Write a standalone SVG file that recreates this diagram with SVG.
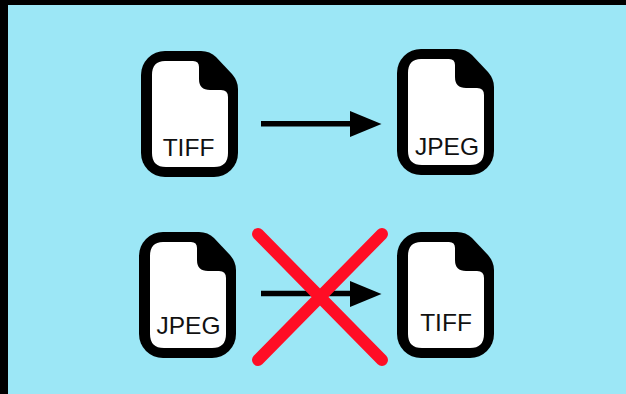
<svg xmlns="http://www.w3.org/2000/svg" width="626" height="394" viewBox="0 0 626 394">
<style>
.outer{fill:#000}
.inner{fill:#fff}
.lbl{font-family:"Liberation Sans",Arial,sans-serif;font-size:24.500px;fill:#111;text-anchor:middle}
.shaft{stroke:#000;stroke-width:5.500;fill:none}
.head{fill:#000}
.cross{stroke:#ff0d25;stroke-width:12;stroke-linecap:round;fill:none}
</style>
<defs>
<g id="file">
<path class="outer" d="M24,0H60Q69,0 75,6L91,23Q97,30 97,38V102A24,24 0 0 1 73,126H24A24,24 0 0 1 0,102V24A24,24 0 0 1 24,0Z"/>
<path class="inner" d="M24,10H52Q58,10 58,16V28Q58,39 69,39H80Q87,39 87,46V102Q87,116 73,116H25Q11,116 11,102V24Q11,10 24,10Z"/>
</g>
</defs>
<rect width="626" height="394" fill="#000"/>
<rect x="8" y="5" width="618" height="389" fill="#9ce7f6"/>
<g id="node-tiff-top"><use href="#file" x="141" y="51"/><text class="lbl" x="188.500" y="156">TIFF</text></g>
<g id="node-jpeg-top"><use href="#file" x="397" y="49"/><text class="lbl" x="447" y="155">JPEG</text></g>
<g id="node-jpeg-bottom"><use href="#file" x="139" y="232"/><text class="lbl" x="188.500" y="334">JPEG</text></g>
<g id="node-tiff-bottom"><use href="#file" x="397" y="232"/><text class="lbl" x="446" y="331">TIFF</text></g>
<g id="connectors">
<path class="shaft" d="M261,123.700H352"/><path class="head" d="M350,111L381.500,124L350,137Z"/>
<path class="shaft" d="M261,293.500H352"/><path class="head" d="M350,281L381.500,294L350,307Z"/>
</g>
<g id="cross">
<path class="cross" d="M258,234L382,360M382,234L258,360"/>
</g>
</svg>
